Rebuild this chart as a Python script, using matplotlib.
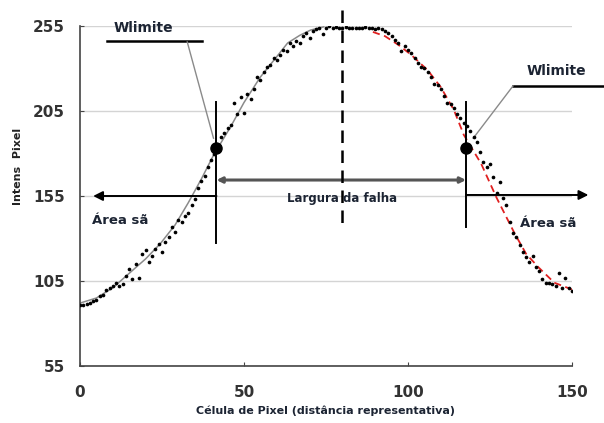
import matplotlib
matplotlib.use('Agg')
import matplotlib.pyplot as plt

# measured points (pixel cell vs intensity)
pix_x = [0, 1, 2, 3, 4, 5, 6, 7, 8, 9, 10, 11, 12, 13, 14, 15, 16, 17, 18, 19,
         20, 21, 22, 23, 24, 25, 26, 27, 28, 29, 30, 31, 32, 33, 34, 35, 36, 37, 38, 39,
         40, 41, 42, 43, 44, 45, 46, 47, 48, 49, 50, 51, 52, 53, 54, 55, 56, 57, 58, 59,
         60, 61, 62, 63, 64, 65, 66, 67, 68, 69, 70, 71, 72, 73, 74, 75, 76, 77, 78, 79,
         80, 81, 82, 83, 84, 85, 86, 87, 88, 89, 90, 91, 92, 93, 94, 95, 96, 97, 98, 99,
         100, 101, 102, 103, 104, 105, 106, 107, 108, 109, 110, 111, 112, 113, 114, 115, 116, 117, 118, 119,
         120, 121, 122, 123, 124, 125, 126, 127, 128, 129, 130, 131, 132, 133, 134, 135, 136, 137, 138, 139,
         140, 141, 142, 143, 144, 145, 146, 147, 148, 149, 150]
intens = [91, 91, 91.5, 92, 93, 94, 96, 97, 100, 101, 102, 104, 102, 103, 108, 112, 106, 115, 107, 121,
          123, 116, 120, 124, 127, 122, 128, 131, 137, 134, 141, 140, 143, 145, 150, 153, 160, 164, 167, 172,
          176, 180, 184, 190, 192, 195, 197, 210, 203, 213, 204, 215, 212, 218, 225, 223, 228, 231, 232, 236,
          235, 238, 241, 240, 245, 243, 246, 245, 249, 251, 248, 252, 253, 254, 250, 254, 255, 254, 254.5, 254,
          254, 254.5, 254, 254, 254, 254, 254, 254.5, 254, 254, 253, 254, 253, 252, 251, 249, 247, 245, 240, 243,
          241, 239, 236, 233, 231, 230, 228, 225, 221, 220, 218, 214, 210, 209, 207, 203, 201, 198, 196, 193,
          190, 187, 181, 175, 172, 174, 166, 157, 163, 154, 150, 140, 133, 131, 126, 122, 119, 116, 120, 113,
          111, 106, 104, 104, 103, 102, 110, 101, 107, 101, 99]

# fitted curves
left_fit_x = [0, 5, 10, 14.4, 20, 24.5, 29, 33, 37, 40.7, 46, 50, 55, 60, 63.3, 67, 70.3, 74.3]
left_fit_y = [92, 95, 101, 108.5, 118, 127, 138, 151, 165, 179, 196, 210, 225, 237, 245, 249.5, 252.6, 254.5]
right_fit_x = [89.3, 93, 97, 101, 106, 110, 114, 117, 122.3, 127, 132.5, 136, 139.8, 144.6, 150]
right_fit_y = [251.5, 249, 244, 238, 229, 219, 205.6, 191, 174, 154, 133, 121, 113, 104, 100]

wlim_x = [41.6, 117.7]
wlim_y = [183, 183]

fig = plt.figure(figsize=(6.04, 4.23), dpi=100)
ax = fig.add_axes([80/604, 1 - 366/423, 492/604, 340/423])

ax.set_xlim(0, 150)
ax.set_ylim(55, 255)
ax.set_xticks([0, 50, 100, 150])
ax.set_yticks([55, 105, 155, 205, 255])
ax.yaxis.grid(True, color='#d4d4d4', lw=1)
ax.set_axisbelow(True)
for s in ['top', 'right']:
    ax.spines[s].set_visible(False)
for s in ['left', 'bottom']:
    ax.spines[s].set_color('#444444')
    ax.spines[s].set_linewidth(1.2)
ax.tick_params(direction='in', length=3, color='#444444', labelsize=11, labelcolor='#333333')
ax.tick_params(axis='x', pad=14)
ax.tick_params(axis='y', pad=11)
for lab in ax.get_xticklabels() + ax.get_yticklabels():
    lab.set_fontweight('bold')

ax.plot(left_fit_x, left_fit_y, color='#8a8a8a', lw=1.1, zorder=2)
ax.plot(right_fit_x, right_fit_y, color='#e02020', lw=1.3, ls=(0, (4, 2.5)), zorder=2)
ax.scatter(pix_x, intens, s=7, color='black', zorder=3, linewidths=0)

# vertical markers
ax.plot([41.6, 41.6], [210.3, 127.4], color='black', lw=1.4, zorder=4)
ax.plot([117.7, 117.7], [210.3, 136.8], color='black', lw=1.4, zorder=4)
ax.plot([80, 80], [264.4, 136.8], color='black', lw=1.8, ls=(0, (5, 3)), clip_on=False, zorder=4)
ax.plot(wlim_x, wlim_y, 'o', color='black', ms=8, zorder=5)

# arrows
txt = '#1c2433'
ax.annotate('', xy=(4, 155), xytext=(41.6, 155),
            arrowprops=dict(arrowstyle='-|>', color='black', lw=1.4, mutation_scale=14, shrinkA=0, shrinkB=0))
ax.annotate('', xy=(155, 155.6), xytext=(117.7, 155.6), annotation_clip=False,
            arrowprops=dict(arrowstyle='-|>', color='black', lw=1.4, mutation_scale=14, shrinkA=0, shrinkB=0))
ax.annotate('', xy=(117.7, 164.4), xytext=(41.6, 164.4),
            arrowprops=dict(arrowstyle='<|-|>', color='#555555', lw=2.2, mutation_scale=8, shrinkA=0, shrinkB=0))

ax.text(79.8, 153.8, 'Largura da falha', ha='center', va='center', fontsize=8.5,
        fontweight='bold', color=txt, zorder=6)
ax.text(12.1, 140.3, 'Área sã', ha='center', va='center', fontsize=9.5, fontweight='bold', color=txt)
ax.text(142.7, 138.8, 'Área sã', ha='center', va='center', fontsize=9.5, fontweight='bold', color=txt, clip_on=False)

# Wlimite callouts
ax.text(19.3, 253.8, 'Wlimite', ha='center', va='center', fontsize=10, fontweight='bold', color=txt, clip_on=False)
ax.plot([8.3, 37.3], [246.3, 246.3], color='black', lw=1.8, clip_on=False)
ax.plot([32.7, 40.7], [245.6, 189], color='#8a8a8a', lw=1)
ax.text(145.3, 228.5, 'Wlimite', ha='center', va='center', fontsize=10, fontweight='bold', color=txt, clip_on=False)
ax.plot([132, 162], [219.7, 219.7], color='black', lw=1.8, clip_on=False)
ax.plot([132, 119.9], [219.7, 189], color='#8a8a8a', lw=1)

fig.text(326/604, 1 - 411/423, 'Célula de Pixel (distância representativa)', ha='center', va='center',
         fontsize=8, fontweight='bold', color=txt)
fig.text(18/604, 1 - 166/423, 'Intens  Pixel', ha='center', va='center', rotation=90,
         fontsize=8, fontweight='bold', color='#222222')

fig.savefig('out.png', dpi=100)
